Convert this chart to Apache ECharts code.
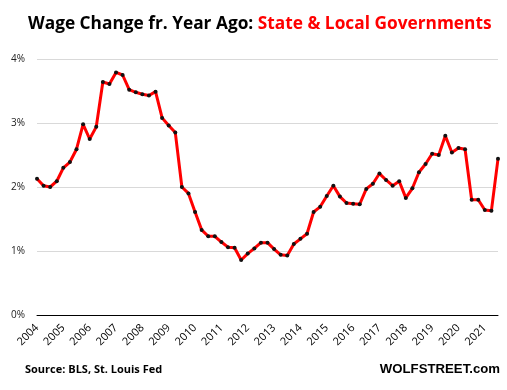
<!DOCTYPE html>
<html><head><meta charset="utf-8">
<script src="https://cdn.jsdelivr.net/npm/echarts@6/dist/echarts.min.js"></script>
<style>html,body{margin:0;padding:0;background:#fff}#c{width:507px;height:390px}</style>
</head><body><div id="c"></div>
<script>
const years = ["2004","2005","2006","2007","2008","2009","2010","2011","2012","2013","2014","2015","2016","2017","2018","2019","2020","2021"];
const quarters = ["Q1","Q2","Q3","Q4"];
const values = [
  2.13, 2.02, 2.00, 2.09,
  2.30, 2.39, 2.59, 2.98,
  2.75, 2.94, 3.64, 3.61,
  3.79, 3.75, 3.52, 3.48,
  3.45, 3.43, 3.49, 3.08,
  2.96, 2.85, 2.00, 1.90,
  1.61, 1.33, 1.23, 1.23,
  1.14, 1.06, 1.05, 0.86,
  0.96, 1.04, 1.13, 1.13,
  1.03, 0.94, 0.93, 1.11,
  1.19, 1.27, 1.61, 1.69,
  1.86, 2.02, 1.85, 1.75,
  1.74, 1.73, 1.97, 2.05,
  2.21, 2.11, 2.02, 2.09,
  1.83, 1.98, 2.23, 2.36,
  2.52, 2.50, 2.80, 2.54,
  2.61, 2.59, 1.80, 1.80,
  1.64, 1.63, 2.44
];
const yTicks = [0, 1, 2, 3, 4];
const categories = [];
years.forEach(y => quarters.forEach(q => categories.push(y + " " + q)));
categories.length = values.length;

const chart = echarts.init(document.getElementById('c'), null, {renderer: 'canvas'});
chart.setOption({
  animation: false,
  backgroundColor: '#fff',
  title: {
    left: 23, top: 11,
    text: '{a|Wage Change fr. Year Ago: }{b|State & Local Governments}',
    textStyle: {
      rich: {
        a: {fontFamily: 'Open Sans', fontWeight: 'bold', fontSize: 17.3, color: '#000'},
        b: {fontFamily: 'Open Sans', fontWeight: 'bold', fontSize: 17.3, color: '#ff0000'}
      }
    }
  },
  graphic: [
    {type: 'text', left: 25, top: 364, style: {text: 'Source: BLS, St. Louis Fed', fontFamily: 'Open Sans', fontWeight: 'bold', fontSize: 11, fill: '#000'}},
    {type: 'text', right: 7, top: 363, style: {text: 'WOLFSTREET.com', fontFamily: 'Liberation Sans', fontWeight: 'bold', fontSize: 13.2, fill: '#000'}}
  ],
  grid: {left: 37, right: 9, top: 59, bottom: 75},
  xAxis: {
    type: 'category', data: categories, boundaryGap: false,
    axisLine: {lineStyle: {color: '#000', width: 1}},
    axisTick: {show: false},
    axisLabel: {
      interval: (i) => i % 4 === 0,
      rotate: 45, margin: 11,
      fontFamily: 'Open Sans', fontSize: 11, color: '#000',
      formatter: (v) => v.split(' ')[0]
    },
    splitLine: {show: false}
  },
  yAxis: {
    type: 'value', min: yTicks[0], max: yTicks[yTicks.length - 1], interval: 1,
    axisLine: {show: false}, axisTick: {show: false},
    axisLabel: {formatter: '{value}%', margin: 12, fontFamily: 'Open Sans', fontSize: 10, color: '#222'},
    splitLine: {lineStyle: {color: '#d9d9d9', width: 1}}
  },
  series: [{
    type: 'line', data: values,
    lineStyle: {color: '#ff0000', width: 3},
    symbol: 'circle', symbolSize: 4, showAllSymbol: true,
    itemStyle: {color: '#111', borderWidth: 0}
  }]
});
</script></body></html>
